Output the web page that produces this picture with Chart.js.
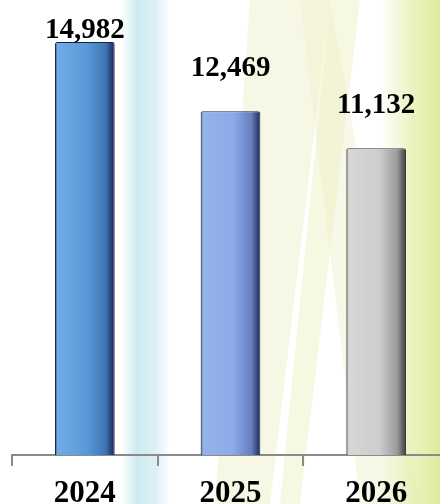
<!DOCTYPE html>
<html>
<head>
<meta charset="utf-8">
<script src="https://cdn.jsdelivr.net/npm/chart.js@4"></script>
<style>
  html, body { margin: 0; padding: 0; background: #fff; }
  #caixa { width: 440px; height: 504px; overflow: hidden; position: relative; }
  canvas { display: block; }
</style>
</head>
<body>
<div id="caixa"><canvas id="graficoAnos" width="452" height="504"></canvas></div>
<script>
// dados do grafico
const anos = ['2024', '2025', '2026'];
const valores = [14982, 12469, 11132];
const maxEixo = 16000;

// cores das barras: [borda esquerda, meio, lado direito, borda escura]
const coresBarras = [
    ['rgb(115,172,230)', 'rgb(88,152,216)', 'rgb(62,115,180)', 'rgb(20,35,75)'],
    ['rgb(150,178,235)', 'rgb(140,170,232)', 'rgb(100,125,190)', 'rgb(30,40,80)'],
    ['rgb(215,215,215)', 'rgb(205,205,205)', 'rgb(155,155,155)', 'rgb(60,60,60)']
];

function corDaBarra(ctx) {
    const chart = ctx.chart;
    const i = ctx.dataIndex;
    const escala = chart.scales.x;
    if (!escala || i === undefined || !coresBarras[i]) return 'rgb(88,152,216)';
    const cx = escala.getPixelForValue(i);
    if (!isFinite(cx)) return coresBarras[i][1];
    const meia = 30;
    const c = coresBarras[i];
    const g = chart.ctx.createLinearGradient(cx - meia, 0, cx + meia, 0);
    g.addColorStop(0, c[3]);
    g.addColorStop(0.04, c[0]);
    g.addColorStop(0.55, c[1]);
    g.addColorStop(0.85, c[2]);
    g.addColorStop(1, c[3]);
    return g;
}

// fundo com faixas claras
const fundo = {
    id: 'fundo',
    beforeDraw(chart) {
        const c = chart.ctx;
        c.save();
        c.fillStyle = '#ffffff';
        c.fillRect(0, 0, chart.width, chart.height);

        let g = c.createLinearGradient(122, 0, 170, 0);
        g.addColorStop(0, 'rgba(200,232,240,0)');
        g.addColorStop(0.3, 'rgba(200,232,240,0.9)');
        g.addColorStop(0.7, 'rgba(210,236,242,0.8)');
        g.addColorStop(1, 'rgba(210,236,242,0)');
        c.fillStyle = g;
        c.fillRect(122, 0, 48, chart.height);

        c.fillStyle = 'rgba(238,238,200,0.45)';
        c.beginPath();
        c.moveTo(250, 0); c.lineTo(330, 0); c.lineTo(270, 504); c.lineTo(215, 504);
        c.closePath(); c.fill();

        c.fillStyle = 'rgba(240,240,205,0.45)';
        c.beginPath();
        c.moveTo(300, 0); c.lineTo(330, 0); c.lineTo(420, 504); c.lineTo(360, 504);
        c.closePath(); c.fill();

        c.fillStyle = 'rgba(235,240,190,0.45)';
        c.beginPath();
        c.moveTo(330, 0); c.lineTo(360, 0); c.lineTo(300, 504); c.lineTo(280, 504);
        c.closePath(); c.fill();

        g = c.createLinearGradient(380, 0, 440, 0);
        g.addColorStop(0, 'rgba(230,238,180,0)');
        g.addColorStop(0.5, 'rgba(228,238,170,0.7)');
        g.addColorStop(1, 'rgba(218,235,150,0.95)');
        c.fillStyle = g;
        c.fillRect(380, 0, 72, chart.height);
        c.restore();
    }
};

// rotulos de valor acima das barras
const rotulos = {
    id: 'rotulos',
    afterDatasetsDraw(chart) {
        const c = chart.ctx;
        const meta = chart.getDatasetMeta(0);
        c.save();
        c.font = 'bold 29px "Liberation Serif", "Times New Roman", serif';
        c.fillStyle = '#000';
        c.textAlign = 'center';
        c.textBaseline = 'alphabetic';
        meta.data.forEach((barra, i) => {
            const y = Math.max(barra.y - 35, 38);
            c.fillText(valores[i].toLocaleString('en-US'), barra.x, y);
        });
        c.restore();
    }
};

const ctx = document.getElementById('graficoAnos');
new Chart(ctx.getContext('2d'), {
    type: 'bar',
    data: {
        labels: anos,
        datasets: [{
            data: valores,
            backgroundColor: corDaBarra,
            borderColor: (ctx) => coresBarras[ctx.dataIndex] ? coresBarras[ctx.dataIndex][3] : '#000',
            borderWidth: 1,
            borderRadius: 2,
            borderSkipped: 'bottom',
            categoryPercentage: 1,
            barPercentage: 0.41
        }]
    },
    options: {
        responsive: false,
        animation: false,
        layout: { padding: { left: 12, right: 3, top: 14, bottom: 0 } },
        plugins: {
            legend: { display: false },
            tooltip: { enabled: false }
        },
        scales: {
            x: {
                offset: true,
                afterFit: (escala) => { escala.height = 49; },
                grid: {
                    display: true,
                    offset: true,
                    drawOnChartArea: false,
                    drawTicks: true,
                    tickLength: 11,
                    color: '#8a8a8a',
                    lineWidth: 2
                },
                border: { display: true, color: '#8a8a8a', width: 2 },
                ticks: {
                    padding: 9,
                    color: '#000',
                    font: { family: '"Liberation Serif", "Times New Roman", serif', size: 31, weight: 'bold' }
                }
            },
            y: {
                display: false,
                min: 0,
                max: maxEixo
            }
        }
    },
    plugins: [fundo, rotulos]
});
</script>
</body>
</html>
